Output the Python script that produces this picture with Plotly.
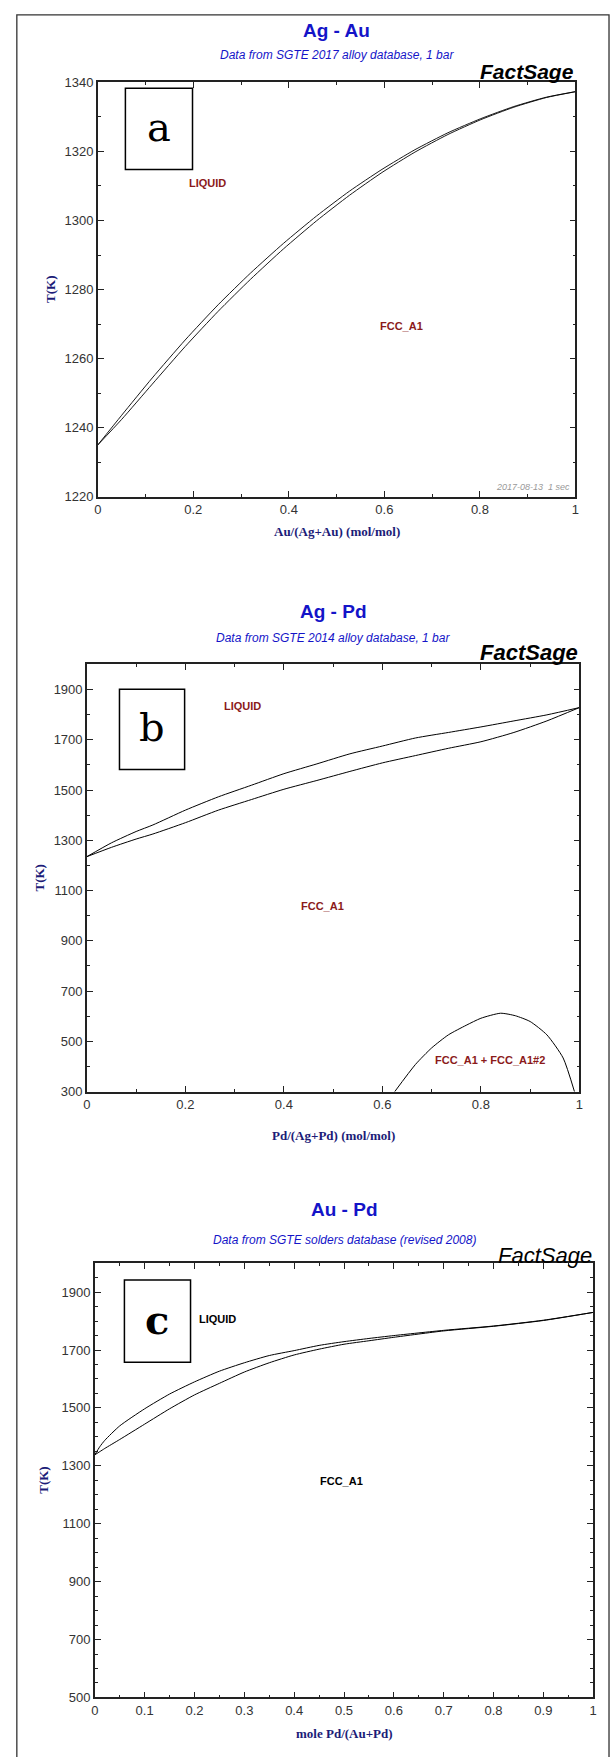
import plotly.graph_objects as go

W, H = 614, 1757

# ---------------- data ----------------
# Panel a: Ag - Au
a_x = [0, 0.05, 0.114, 0.183, 0.252, 0.320, 0.389, 0.458, 0.527, 0.595, 0.664, 0.733, 0.802, 0.871, 0.939, 1.0]
a_liquidus = [1235, 1243.6, 1254.4, 1265.4, 1275.6, 1284.8, 1293.4, 1301.3, 1308.5, 1314.8, 1320.5, 1325.4, 1329.5, 1333.0, 1335.7, 1337.3]
a_solidus = [1235, 1242.4, 1252.6, 1263.5, 1273.7, 1283.0, 1291.8, 1299.9, 1307.3, 1313.9, 1319.8, 1324.9, 1329.2, 1332.8, 1335.6, 1337.3]

# Panel b: Ag - Pd
b_x = [0, 0.05, 0.1, 0.134, 0.2, 0.267, 0.334, 0.4, 0.467, 0.534, 0.6, 0.667, 0.734, 0.8, 0.867, 0.934, 1.0]
b_liquidus = [1235, 1290, 1335, 1361, 1420, 1473, 1519, 1565, 1604, 1644, 1675, 1707, 1729, 1751, 1775, 1799, 1828]
b_solidus = [1235, 1272, 1305, 1325, 1370, 1420, 1462, 1503, 1538, 1574, 1608, 1637, 1666, 1692, 1729, 1775, 1828]
b_gap_x = [0.625, 0.667, 0.70, 0.734, 0.77, 0.80, 0.84, 0.87, 0.90, 0.934, 0.967, 0.99]
b_gap_T = [300, 408, 474, 526, 564, 592, 612, 602, 579, 526, 434, 300]

# Panel c: Au - Pd
c_x = [0, 0.01, 0.02, 0.05, 0.1, 0.15, 0.2, 0.25, 0.3, 0.35, 0.4, 0.45, 0.5, 0.55, 0.6, 0.7, 0.8, 0.9, 1.0]
c_liquidus = [1338, 1366, 1388, 1438, 1497, 1548, 1590, 1627, 1656, 1681, 1698, 1716, 1729, 1740, 1750, 1768, 1783, 1803, 1830]
c_solidus = [1338, 1349, 1360, 1391, 1444, 1497, 1545, 1585, 1624, 1656, 1683, 1703, 1720, 1732, 1744, 1766, 1782, 1802, 1830]

titles = ["Ag - Au", "Ag - Pd", "Au - Pd"]
subtitles = ["Data from SGTE 2017 alloy database, 1 bar",
             "Data from SGTE 2014 alloy database, 1 bar",
             "Data from SGTE solders database (revised 2008)"]
xtitles = ["Au/(Ag+Au) (mol/mol)", "Pd/(Ag+Pd) (mol/mol)", "mole Pd/(Au+Pd)"]
letters = ["a", "b", "c"]

# ---------------- layout helpers ----------------
def px(x):
    return x / W

def py(y):
    return 1 - y / H

# plot boxes in pixels: (x0, x1, ytop, ybottom)
boxes = [(95, 579, 76, 494), (84, 583, 663, 1094), (92, 597, 1267, 1705)]

NARROW = "Liberation Sans Narrow, Arial Narrow, Liberation Sans, Arial, sans-serif"
SERIF = "Liberation Serif, Times New Roman, serif"
BLUE = "#1414c8"
NAVY = "#1c1c78"
DARKRED = "#8b1a1a"

fig = go.Figure()

def add_line(x, y, idx, width=1.0):
    fig.add_trace(go.Scatter(x=x, y=y, mode="lines",
                             line=dict(color="black", width=width, shape="spline", smoothing=0.6),
                             xaxis="x" if idx == 0 else f"x{idx+1}",
                             yaxis="y" if idx == 0 else f"y{idx+1}",
                             showlegend=False, hoverinfo="skip"))

add_line(a_x, a_liquidus, 0, 0.9)
add_line(a_x, a_solidus, 0, 0.9)
add_line(b_x, b_liquidus, 1)
add_line(b_x, b_solidus, 1)
add_line(b_gap_x, b_gap_T, 1)
add_line(c_x, c_liquidus, 2)
add_line(c_x, c_solidus, 2)

yranges = [(1220, 1340), (300, 2000), (500, 2000)]
ytick0 = [1220, 300, 500]
ydt = [20, 200, 200]
ymin = [10, 100, 50]
xdt = [0.2, 0.2, 0.1]
xmin = [0.1, 0.1, 0.05]

layout = dict(width=W, height=H, margin=dict(l=0, r=0, t=0, b=0),
              paper_bgcolor="white", plot_bgcolor="white", showlegend=False)

for i, (x0, x1, yt, yb) in enumerate(boxes):
    sx = "" if i == 0 else str(i + 1)
    common = dict(showgrid=False, zeroline=False, showline=True, linecolor="#222",
                  linewidth=1.5, mirror="allticks", ticks="inside", ticklen=6,
                  tickwidth=1, tickcolor="#222",
                  tickfont=dict(family=NARROW, size=13, color="#333"))
    layout["xaxis" + sx] = dict(common, domain=[px(x0), px(x1)], range=[0, 1],
                                tick0=0, dtick=xdt[i],
                                minor=dict(ticks="inside", ticklen=3, dtick=xmin[i], tick0=0,
                                           tickcolor="#222", showgrid=False),
                                anchor="y" + sx, fixedrange=True)
    layout["yaxis" + sx] = dict(common, domain=[py(yb), py(yt)], range=list(yranges[i]),
                                tick0=ytick0[i], dtick=ydt[i],
                                minor=dict(ticks="inside", ticklen=3, dtick=ymin[i], tick0=ytick0[i],
                                           tickcolor="#222", showgrid=False),
                                anchor="x" + sx, fixedrange=True)

fig.update_layout(**layout)

ann = []
shapes = []

title_y = [24, 610, 1213]
sub_y = [48, 636, 1244]
fs_y = [65, 651, 1259]
xtitle_y = [529, 1138, 1741]
tk_x = [47, 35, 40]
letter_boxes = [(123, 191, 82, 164), (117, 183, 688, 769), (122, 189, 1284, 1367)]
fs_size = [21, 22, 22]

for i, (x0, x1, yt, yb) in enumerate(boxes):
    cx = (x0 + x1) / 2
    ann.append(dict(text=f"<b>{titles[i]}</b>", x=px(cx), y=py(title_y[i]), xref="paper", yref="paper",
                    xanchor="center", yanchor="middle", showarrow=False,
                    font=dict(family=NARROW, size=19, color=BLUE)))
    ann.append(dict(text=f"<i>{subtitles[i]}</i>", x=px(cx), y=py(sub_y[i]), xref="paper", yref="paper",
                    xanchor="center", yanchor="middle", showarrow=False,
                    font=dict(family=NARROW, size=12, color=BLUE)))
    fs_txt = "<b><i>FactSage</i></b>" if i < 2 else "<i>FactSage</i>"
    ann.append(dict(text=fs_txt, x=px(x1 + 1), y=py(fs_y[i]), xref="paper", yref="paper",
                    xanchor="right", yanchor="middle", showarrow=False,
                    font=dict(family=NARROW, size=fs_size[i], color="black")))
    ann.append(dict(text=f"<b>{xtitles[i]}</b>", x=px(cx), y=py(xtitle_y[i]), xref="paper", yref="paper",
                    xanchor="center", yanchor="middle", showarrow=False,
                    font=dict(family=SERIF, size=13, color=NAVY)))
    ann.append(dict(text="<b>T(K)</b>", x=px(tk_x[i]), y=py((yt + yb) / 2), xref="paper", yref="paper",
                    xanchor="center", yanchor="middle", showarrow=False, textangle=-90,
                    font=dict(family=SERIF, size=13, color=NAVY)))
    bx0, bx1, by0, by1 = letter_boxes[i]
    shapes.append(dict(type="rect", xref="paper", yref="paper", x0=px(bx0), x1=px(bx1),
                       y0=py(by1), y1=py(by0), line=dict(color="black", width=1.5),
                       fillcolor="white", layer="above"))
    ann.append(dict(text=letters[i] if i < 2 else "<b>c</b>", x=px((bx0 + bx1) / 2), y=py((by0 + by1) / 2 - 2),
                    xref="paper", yref="paper", xanchor="center", yanchor="middle", showarrow=False,
                    font=dict(family="DejaVu Serif, Liberation Serif, serif", size=40, color="black")))

# phase labels (data coordinates)
phase = [
    ("LIQUID", 0.23, 1311, "x", "y", DARKRED),
    ("FCC_A1", 0.636, 1269.5, "x", "y", DARKRED),
    ("LIQUID", 0.315, 1834, "x2", "y2", DARKRED),
    ("FCC_A1", 0.479, 1038, "x2", "y2", DARKRED),
    ("FCC_A1 + FCC_A1#2", 0.818, 426, "x2", "y2", DARKRED),
    ("LIQUID", 0.246, 1808, "x3", "y3", "black"),
    ("FCC_A1", 0.495, 1247, "x3", "y3", "black"),
]
for t, xx, yy, xr, yr, col in phase:
    ann.append(dict(text=f"<b>{t}</b>", x=xx, y=yy, xref=xr, yref=yr, showarrow=False,
                    xanchor="center", yanchor="middle",
                    font=dict(family=NARROW, size=11, color=col)))

ann.append(dict(text="<i>2017-08-13  1 sec</i>", x=px(575), y=py(484), xref="paper", yref="paper",
                xanchor="right", yanchor="middle", showarrow=False,
                font=dict(family=NARROW, size=9, color="#999")))

# outer frame
shapes.append(dict(type="rect", xref="paper", yref="paper", x0=px(13), x1=px(613),
                   y0=py(1790), y1=py(8), line=dict(color="#333", width=1.3), layer="below"))

fig.update_layout(annotations=ann, shapes=shapes)
fig.write_html("out.html")
